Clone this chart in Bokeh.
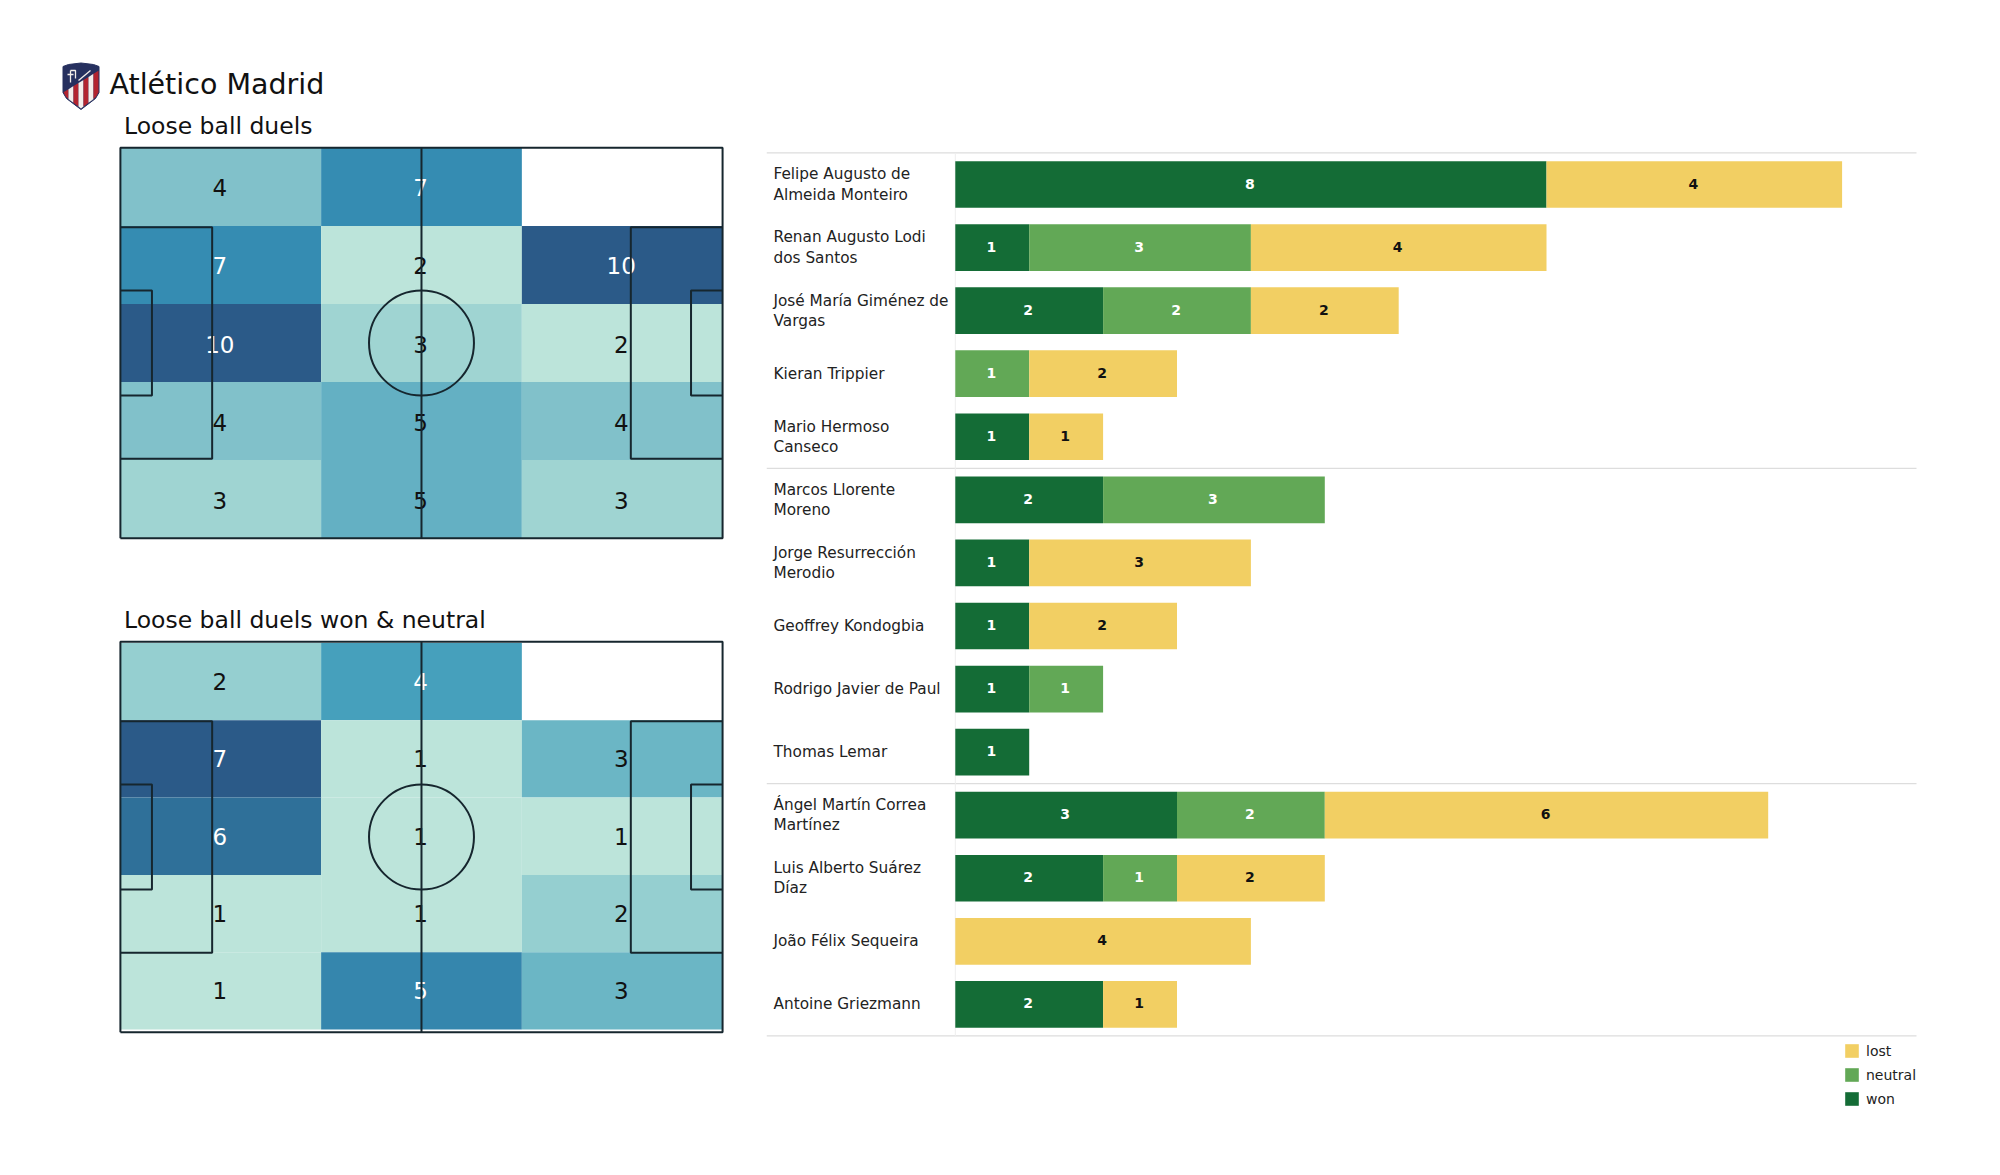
from bokeh.plotting import figure
from bokeh.layouts import row, column
from bokeh.models import Range1d, Legend, LegendItem, ColumnDataSource, Title
from bokeh.core.properties import value
from bokeh.embed import file_html
from bokeh.resources import INLINE

# ---------- data ----------
team = "Atlético Madrid"
title_top = "Loose ball duels"
title_bottom = "Loose ball duels won & neutral"

# rows listed from the top of the pitch to the bottom, None = empty cell
duels = [[4, 7, None], [7, 2, 10], [10, 3, 2], [4, 5, 4], [3, 5, 3]]
duels_won = [[2, 4, None], [7, 1, 3], [6, 1, 1], [1, 1, 2], [1, 5, 3]]

duels_colors = {2: "#BCE4DA", 3: "#9FD4D2", 4: "#81C1CA", 5: "#64B0C3", 7: "#358CB2", 10: "#2B5A88"}
won_colors = {1: "#BCE4DA", 2: "#95CFD0", 3: "#6BB6C5", 4: "#46A0BC", 5: "#3586AD", 6: "#2F7099", 7: "#2B5A88"}
duels_white = {7, 10}
won_white = {4, 5, 6, 7}

players = [
    "Felipe Augusto de\nAlmeida Monteiro", "Renan Augusto Lodi\ndos Santos",
    "José María Giménez de\nVargas", "Kieran Trippier", "Mario Hermoso\nCanseco",
    "Marcos Llorente\nMoreno", "Jorge Resurrección\nMerodio", "Geoffrey Kondogbia",
    "Rodrigo Javier de Paul", "Thomas Lemar", "Ángel Martín Correa\nMartínez",
    "Luis Alberto Suárez\nDíaz", "João Félix Sequeira", "Antoine Griezmann",
]
won = [8, 1, 2, 0, 1, 2, 1, 1, 1, 1, 3, 2, 0, 2]
neutral = [0, 3, 2, 1, 0, 3, 0, 0, 1, 0, 2, 1, 0, 0]
lost = [4, 4, 2, 2, 1, 0, 3, 2, 0, 0, 6, 2, 4, 1]
group_breaks = [-0.5, 4.5, 9.5, 13.5]

WON, NEUTRAL, LOST = "#146C36", "#62A856", "#F2CF63"
FONT = "DejaVu Sans"
LINE = "#16262e"
NAVY, RED, CREAM = "#26305F", "#B3242F", "#F4EEEA"

# ---------- header with the crest and the first title ----------
head = figure(width=760, height=143, x_range=Range1d(0, 760), y_range=Range1d(143, 0),
              x_axis_type=None, y_axis_type=None, output_backend="svg", toolbar_location=None,
              min_border=0, min_border_left=0, min_border_right=0, min_border_top=0, min_border_bottom=0,
              outline_line_color=None)
head.grid.visible = False


def shield_bottom(x):
    pts = [(62.5, 92), (66, 98), (80.5, 109), (95, 98), (98.5, 92)]
    for (x0, y0), (x1, y1) in zip(pts, pts[1:]):
        if x <= x1:
            return y0 + (y1 - y0) * (x - x0) / (x1 - x0)
    return pts[-1][1]


def diagonal(x):
    return 92 - (x - 62.5) * 22 / 36


head.patch([62.5, 68, 80.5, 93, 98.5, 98.5, 95, 80.5, 66, 62.5],
           [66, 64, 62.5, 64, 66, 92, 98, 109, 98, 92], fill_color=NAVY, line_color=NAVY, line_width=1)
bands = [(63, 68, RED), (68, 73, CREAM), (73, 78, RED), (78, 83, CREAM), (83, 88, RED), (88, 93, CREAM), (93, 98, RED)]
for x0, x1, c in bands:
    head.patch([x0, x1, x1, 0.5 * (x0 + x1), x0],
               [diagonal(x0), diagonal(x1), shield_bottom(x1) - 1, shield_bottom(0.5 * (x0 + x1)) - 1, shield_bottom(x0) - 1],
               fill_color=c, line_color=None)
head.multi_line([[70, 70], [70, 75, 75], [78, 90], [67, 73]], [[70, 82], [70, 70, 78], [80, 70], [74, 74]],
                line_color=CREAM, line_width=1.3)
head.text(x=[109], y=[84], text=[team], text_font=value(FONT), text_font_size="28.5px",
          text_color="#111111", text_baseline="middle")
head.text(x=[123.5], y=[125], text=[title_top], text_font=value(FONT), text_font_size="23.5px",
          text_color="#111111", text_baseline="middle")


# ---------- pitches ----------
def pitch(rows, colors, white, title, border_top, y_low, y_high, text_dy):
    scale = 5.735
    x0 = -119.9 / scale
    pad = 0.75
    p = figure(frame_width=760, frame_height=399, width=760, height=border_top + 399,
               x_range=Range1d(x0, x0 + 760 / scale), y_range=Range1d(-pad, 68 + pad),
               x_axis_type=None, y_axis_type=None, output_backend="svg", toolbar_location=None,
               min_border_left=0, min_border_right=0, min_border_top=border_top, min_border_bottom=0,
               outline_line_color=None)
    p.grid.visible = False
    xs, ys, vals, fills, txt = [], [], [], [], []
    n = len(rows)
    h = (y_high - y_low) / n
    for r, line in enumerate(rows):
        for c, v in enumerate(line):
            if v is None:
                continue
            xs.append(17.5 + 35 * c)
            ys.append(y_high - h * (r + 0.5))
            vals.append(str(v))
            fills.append(colors[v])
            txt.append("#FFFFFF" if v in white else "#111111")
    src = ColumnDataSource(dict(x=xs, y=ys, v=vals, f=fills, t=txt))
    p.rect("x", "y", width=35, height=h, fill_color="f", line_color=None, source=src)
    p.text("x", "y", text="v", text_color="t", text_font=value(FONT), text_font_size="23px",
           text_align="center", text_baseline="middle", x_offset=-1, y_offset=text_dy, source=src)
    lw = 2
    p.line([0, 105, 105, 0, 0], [0, 0, 68, 68, 0], line_color=LINE, line_width=lw)
    p.line([52.5, 52.5], [0, 68], line_color=LINE, line_width=lw)
    for a, d in [(0, 16), (105, 89)]:
        p.line([a, d, d, a], [13.84, 13.84, 54.16, 54.16], line_color=LINE, line_width=lw)
    for a, d in [(0, 5.5), (105, 99.5)]:
        p.line([a, d, d, a], [24.84, 24.84, 43.16, 43.16], line_color=LINE, line_width=lw)
    p.circle(x=[52.5], y=[34], radius=9.15, fill_color=None, line_color=LINE, line_width=lw)
    if title:
        t = Title(text=title, text_font=FONT, text_font_size="23.5px", text_font_style="normal",
                  text_color="#111111", align="left", offset=123.5, standoff=8)
        p.add_layout(t, "above")
    return p


p1 = pitch(duels, duels_colors, duels_white, None, 0, 0, 68, 1)
p2 = pitch(duels_won, won_colors, won_white, title_bottom, 95, 0.47, 67.8, 0)

# ---------- stacked bars ----------
UNIT = 73.9
ROW = 63.07
BAR_LEFT = 954.8
x_start = -(BAR_LEFT - 766) / UNIT
x_end = (1930 - BAR_LEFT) / UNIT
line_end = (1916 - BAR_LEFT) / UNIT
y_start = -(184 - 147) / ROW
y_end = y_start + (1115 - 147) / ROW

b = figure(frame_width=1164, frame_height=968, width=1170, height=1115,
           x_range=Range1d(x_start, x_end), y_range=Range1d(y_end, y_start),
           x_axis_type=None, y_axis_type=None, output_backend="svg", toolbar_location=None,
           min_border_left=6, min_border_right=0, min_border_top=147, min_border_bottom=0,
           outline_line_color=None)
b.grid.visible = False
b.segment(x0=[x_start] * 4, x1=[line_end] * 4, y0=group_breaks, y1=group_breaks,
          line_color="#DDDDDD", line_width=1.3)
b.segment(x0=[0], x1=[0], y0=[group_breaks[0]], y1=[group_breaks[-1]], line_color="#EEEEEE", line_width=1)

idx = list(range(len(players)))
left_n = won
left_l = [w + n for w, n in zip(won, neutral)]
right_l = [a + c for a, c in zip(left_l, lost)]
r_won = b.hbar(y=idx, left=[0] * len(idx), right=won, height=0.74, fill_color=WON, line_color=None)
r_neu = b.hbar(y=idx, left=left_n, right=left_l, height=0.74, fill_color=NEUTRAL, line_color=None)
r_los = b.hbar(y=idx, left=left_l, right=right_l, height=0.74, fill_color=LOST, line_color=None)


def seg_labels(starts, widths, color):
    keep = [i for i in idx if widths[i] > 0]
    b.text(x=[starts[i] + widths[i] / 2 for i in keep], y=keep, text=[str(widths[i]) for i in keep],
           text_color=color, text_font=value(FONT), text_font_size="14px", text_font_style="bold",
           text_align="center", text_baseline="middle", x_offset=-1, y_offset=-1)


seg_labels([0] * len(idx), won, "#FFFFFF")
seg_labels(left_n, neutral, "#FFFFFF")
seg_labels(left_l, lost, "#111111")

b.text(x=[0] * len(idx), y=idx, text=players, x_offset=-181.8, text_font=value(FONT), text_font_size="15.3px",
       text_color="#222222", text_align="left", text_baseline="middle", text_line_height=1.12)

legend = Legend(items=[LegendItem(label="lost", renderers=[r_los]),
                       LegendItem(label="neutral", renderers=[r_neu]),
                       LegendItem(label="won", renderers=[r_won])],
                location=(1077, 8), orientation="vertical", glyph_width=17, glyph_height=17,
                label_width=40, label_height=17, spacing=7, margin=0, padding=0, label_standoff=6,
                label_text_font=FONT, label_text_font_size="14px", label_text_color="#222222",
                border_line_color=None, background_fill_color=None, background_fill_alpha=0)
b.add_layout(legend, "center")

page = row(column(head, p1, p2, spacing=0), b, spacing=0)
open("out.html", "w").write(file_html(page, INLINE))
